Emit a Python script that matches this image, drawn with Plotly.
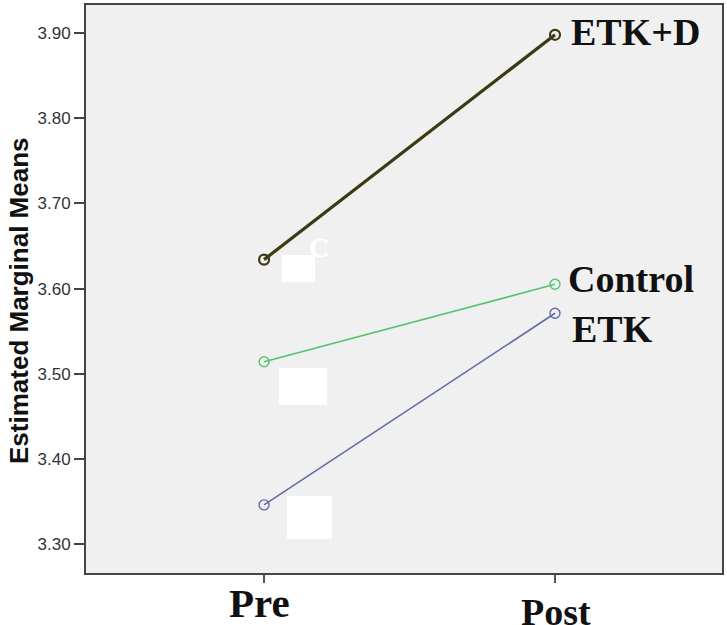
import plotly.graph_objects as go

# Data
time_points = ["Pre", "Post"]
time_pos = [0, 1]
groups = ["ETK+D", "Control", "ETK"]
etkd_means = [3.634, 3.898]
control_means = [3.514, 3.605]
etk_means = [3.346, 3.571]
y_ticks = [3.30, 3.40, 3.50, 3.60, 3.70, 3.80, 3.90]
y_tick_labels = ["3.30", "3.40", "3.50", "3.60", "3.70", "3.80", "3.90"]
y_title = "Estimated Marginal Means"

series = [
    ("ETK+D", etkd_means, "#3b3a12", 3.2),
    ("Control", control_means, "#55c46c", 1.6),
    ("ETK", etk_means, "#5f6ca6", 1.6),
]

W, H = 727, 625
L, R, T, B = 86, 722, 5, 573
def px(x):
    return (x - L) / (R - L)
def py(y):
    return (B - y) / (B - T)

fig = go.Figure()
for name, vals, color, width in series:
    fig.add_trace(go.Scatter(
        x=time_pos, y=vals, mode="lines+markers", name=name,
        line=dict(color=color, width=width),
        marker=dict(symbol="circle-open", size=10, color=color,
                    line=dict(width=2.2 if width > 2 else 1.4, color=color)),
        showlegend=False,
    ))

serif = "Liberation Serif"
# group labels next to the Post points: (xshift, yshift) in pixels
label_offsets = {"ETK+D": (14, 3), "Control": (11, 5), "ETK": (15, -16)}
for name, vals, color, width in series:
    dx, dy = label_offsets[name]
    fig.add_annotation(x=time_pos[1], y=vals[1], text="<b>%s</b>" % name,
                       xref="x", yref="y", xanchor="left", yanchor="middle",
                       xshift=dx, yshift=dy, showarrow=False,
                       font=dict(family=serif, size=38, color="#111111"))

# x category labels: (xshift, yshift, font size)
x_label_style = {"Pre": (-5, -5, 41), "Post": (1, -16, 38)}
for lab, pos in zip(time_points, time_pos):
    dx, dy, fs = x_label_style[lab]
    fig.add_annotation(x=pos, y=0, xref="x", yref="paper", text="<b>%s</b>" % lab,
                       xanchor="center", yanchor="top", xshift=dx, yshift=dy,
                       showarrow=False,
                       font=dict(family=serif, size=fs, color="#111111"))

# y axis title
fig.add_annotation(xref="paper", yref="paper", x=px(19), y=py(301), text="<b>%s</b>" % y_title,
                   textangle=-90, showarrow=False, xanchor="center", yanchor="middle",
                   font=dict(family="Liberation Sans", size=26, color="#111111"))

# white redaction boxes (image artifacts)
boxes = [(282, 255, 315, 282), (279, 368, 327, 405), (287, 496, 332, 539)]
for x0, y0, x1, y1 in boxes:
    fig.add_shape(type="rect", xref="paper", yref="paper",
                  x0=px(x0), x1=px(x1), y0=py(y1), y1=py(y0),
                  fillcolor="white", line=dict(width=0), layer="above")
fig.add_annotation(xref="paper", yref="paper", x=px(319), y=py(247), text="<b>C</b>",
                   showarrow=False, xanchor="center", yanchor="middle",
                   font=dict(family=serif, size=28, color="white"))

fig.update_layout(
    width=W, height=H,
    margin=dict(l=L, r=W - R, t=T, b=H - B),
    paper_bgcolor="white", plot_bgcolor="#f0f0f0",
    xaxis=dict(range=[-0.612, 1.574], tickvals=time_pos, ticktext=["", ""],
               ticks="outside", ticklen=8, tickcolor="#555555", tickwidth=2,
               showgrid=False, zeroline=False, showline=True, linecolor="#444444",
               linewidth=2, mirror=True, automargin=False),
    yaxis=dict(range=[3.266, 3.933], tickvals=y_ticks, ticktext=y_tick_labels,
               ticks="outside", ticklen=10, tickcolor="#444444", tickwidth=2,
               showgrid=False, zeroline=False, showline=True, linecolor="#444444",
               linewidth=2, mirror=True, automargin=False,
               tickfont=dict(family="Liberation Sans", size=17, color="#333333")),
)

fig.write_html("out.html", config={"displayModeBar": False},
               post_script="document.body.style.margin='0';document.body.style.overflow='hidden';")
